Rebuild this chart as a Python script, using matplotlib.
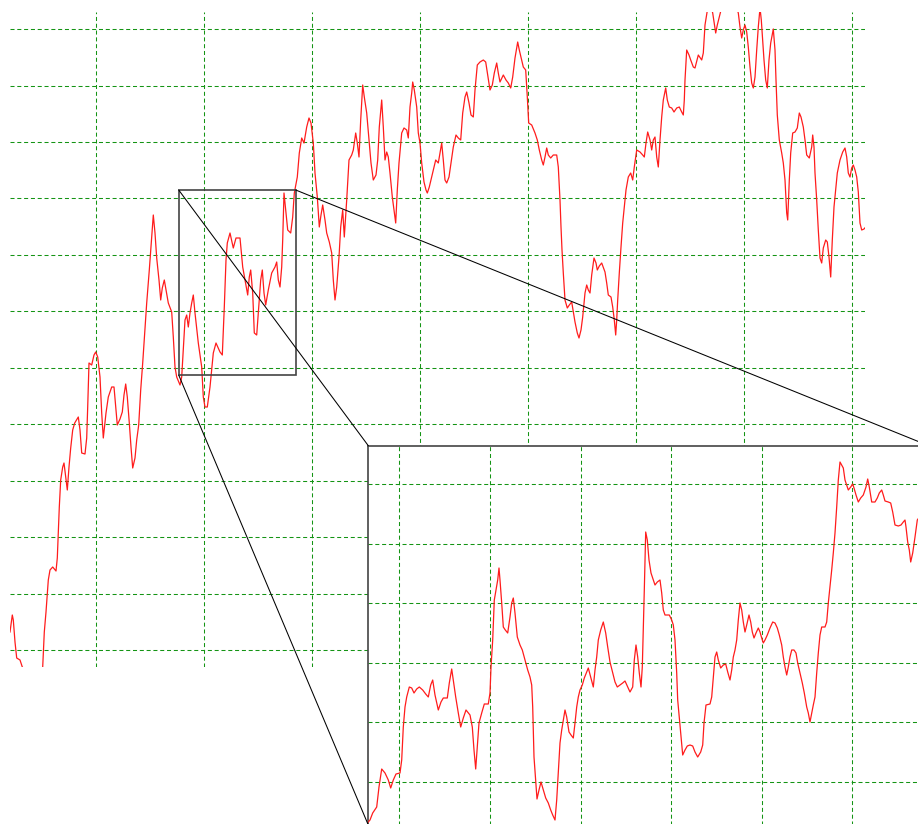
import matplotlib
matplotlib.use("Agg")
import matplotlib.pyplot as plt
from matplotlib.patches import Rectangle, ConnectionPatch
import numpy as np

# ---------------- data: main series ----------------
main_x = [
    0, 2.3, 3.3, 5, 6.7, 10, 12.3, 17, 23, 29,
    32.7, 34.3, 36, 38.3, 40, 42.7, 46, 47.3, 48.3, 49.3,
    50.7, 52.7, 54, 55.7, 57.3, 59, 60.7, 62.7, 64.7, 68.3,
    70, 71.7, 75, 76.7, 77.7, 79, 81.7, 84, 85.7, 87.7,
    90, 91.7, 93.3, 96, 98.3, 101.7, 104, 106, 107.3, 110,
    112.3, 114, 115.7, 117.3, 119.3, 121, 122.7, 125, 126.7, 128.7,
    130.7, 132.7, 136.7, 139.3, 141.7, 143.3, 145, 146.7, 149, 150.7,
    152.3, 154.3, 156, 158.3, 161.7, 163.3, 165, 166.7, 170, 171.7,
    173.3, 175, 176.7, 178.3, 180, 181.7, 183.3, 185, 188.3, 191.7,
    193.3, 195, 197.3, 200, 203.3, 206, 210, 212.3, 214.3, 216,
    217.3, 220, 223.3, 226, 230, 232.7, 235, 237.7, 239.3, 240.7,
    242.7, 244.3, 246.7, 248.3, 250.7, 252.3, 254, 255.7, 258.3, 261.7,
    265, 266.7, 268.3, 270, 271.7, 272.7, 274, 275.7, 277.7, 280.7,
    282.7, 284.3, 287.3, 289.3, 291.7, 294, 296.7, 299, 301, 303.3,
    305, 307.3, 309.3, 311, 312.7, 315, 316.7, 319.3, 321.7, 323.3,
    325, 326.7, 329, 330.7, 332.7, 334.3, 336.7, 339, 341.7, 343.3,
    345.7, 347.3, 349, 350.7, 352.7, 354.3, 356.7, 359, 361, 363.3,
    366, 367.7, 369.3, 371.7, 373.3, 375, 376.7, 378.3, 380, 382.3,
    384, 385.7, 387.3, 389, 391.7, 394, 396.7, 398.3, 400, 401.7,
    402.7, 404.3, 406.7, 408.3, 410, 411.7, 414, 416, 417.3, 419.3,
    421.7, 424, 425.7, 428.3, 430, 431.7, 433.3, 435, 436.7, 439,
    440.7, 443.3, 446, 448.3, 450.7, 452.7, 455, 456.7, 459, 461,
    463.3, 465, 467.3, 470, 473.3, 475.7, 477.7, 480, 482.3, 484.3,
    486.7, 488.3, 490, 493.3, 496, 498.3, 500.7, 502.7, 505, 507.7,
    509.3, 511.7, 513.3, 515.7, 517.3, 518.7, 521.7, 525, 527.3, 529.3,
    531.7, 533.3, 535, 536.7, 538.3, 540.7, 543.3, 546.7, 548.3, 550,
    551, 552, 553.3, 555, 557.3, 559.3, 561.7, 563.3, 565, 567.3,
    569, 571, 572.7, 575, 576.7, 578.3, 580, 581.7, 584, 586,
    587.3, 589.3, 591.7, 595, 596.7, 598.3, 601, 602.7, 604.3, 605.7,
    606.7, 607.7, 609.3, 611, 612.7, 614.3, 616, 618.3, 620.7, 622.7,
    624.3, 626.7, 630, 632.7, 634.3, 636, 637.7, 640, 641.7, 643.3,
    645, 646.7, 648.3, 650, 651.7, 653.3, 655.7, 657.3, 659.3, 661.7,
    664, 666.7, 669.3, 671.7, 673.3, 674.3, 675, 676.7, 679, 680.7,
    683.3, 685, 688.3, 691.7, 693.3, 695, 699, 702.7, 704, 705.7,
    707.3, 709.3, 714, 719, 724, 728.3, 730, 731.7, 733.3, 735,
    736.7, 738.3, 740, 741.7, 743.3, 745, 746.7, 748.3, 750, 751.3,
    752.7, 754, 755.7, 757.3, 759, 760.7, 763.3, 765, 766, 767.3,
    769.3, 771.7, 773.3, 775, 776.7, 777.7, 779.3, 780.7, 782.7, 785,
    787.3, 789.3, 791, 793.3, 795, 796.7, 799.3, 801.7, 802.7, 804,
    805, 806.7, 808.3, 810, 811.7, 813.3, 815.7, 817.3, 819, 820.7,
    822.3, 824, 825.7, 827.3, 830, 832.7, 835, 836.7, 838.3, 840,
    841.7, 843.3, 845, 846.7, 848.3, 850, 851.7, 854, 855.7,
]
main_y = [
    18, 35, 30, 8, -8, -10, -17, -22, -30, -25,
    -17, 18, 38, 70, 80, 83, 79, 92, 118, 143,
    170, 183, 187, 173, 160, 183, 202, 220, 227, 233,
    220, 197, 196, 212, 243, 287, 285, 295, 298, 293,
    273, 237, 212, 237, 253, 263, 263, 240, 225, 231,
    238, 255, 266, 253, 227, 203, 182, 192, 210, 225,
    260, 287, 347, 380, 413, 435, 417, 392, 370, 350,
    362, 370, 360, 347, 338, 313, 283, 273, 265, 273,
    300, 330, 335, 323, 337, 347, 355, 337, 307, 283,
    253, 243, 243, 263, 297, 307, 298, 295, 343, 390,
    407, 417, 402, 412, 412, 383, 370, 355, 373, 380,
    357, 317, 315, 337, 370, 380, 357, 345, 360, 377,
    383, 388, 370, 363, 383, 410, 457, 440, 420, 417,
    433, 457, 473, 497, 512, 507, 523, 532, 527, 507,
    477, 453, 423, 435, 445, 430, 417, 408, 397, 370,
    350, 363, 393, 423, 440, 413, 450, 490, 495, 500,
    517, 507, 493, 530, 565, 553, 537, 510, 487, 470,
    475, 490, 523, 550, 523, 490, 498, 493, 477, 453,
    440, 427, 460, 487, 517, 522, 520, 512, 543, 557,
    568, 560, 543, 517, 507, 487, 468, 460, 457, 463,
    473, 483, 490, 487, 497, 507, 490, 470, 467, 473,
    485, 503, 515, 512, 510, 537, 553, 558, 547, 535,
    533, 560, 585, 588, 590, 588, 575, 560, 565, 577,
    587, 577, 568, 575, 570, 567, 562, 573, 592, 608,
    600, 590, 583, 580, 553, 527, 525, 517, 510, 500,
    490, 485, 493, 502, 495, 492, 495, 495, 483, 450,
    423, 400, 377, 350, 342, 345, 348, 338, 328, 317,
    312, 320, 333, 357, 365, 360, 357, 375, 392, 387,
    380, 384, 387, 378, 367, 355, 353, 343, 330, 315,
    330, 350, 377, 403, 427, 443, 460, 473, 477, 470,
    483, 500, 498, 495, 493, 507, 518, 510, 500, 510,
    513, 493, 483, 510, 533, 550, 562, 550, 543, 542,
    538, 542, 543, 538, 535, 550, 570, 600, 595, 590,
    583, 582, 595, 590, 597, 625, 650, 637, 628, 617,
    625, 633, 652, 662, 650, 637, 623, 612, 620, 625,
    618, 603, 583, 567, 562, 573, 600, 623, 642, 630,
    610, 590, 570, 562, 590, 607, 621, 600, 570, 535,
    510, 497, 487, 470, 437, 430, 470, 497, 517, 518,
    522, 537, 533, 523, 510, 495, 492, 503, 515, 503,
    477, 450, 420, 392, 387, 402, 410, 408, 393, 373,
    410, 443, 460, 477, 490, 498, 502, 493, 477, 473,
    482, 485, 480, 473, 458, 427, 420, 421, 423,
]

# ---------------- data: magnified (inset) series ----------------
zoom_x = [
    0, 1.7, 4.4, 8.4, 10.7, 13.4, 16.7, 20, 22.4, 25,
    27.7, 31.7, 33.4, 35, 36.7, 38.4, 41, 43.4, 45.7, 48.4,
    51, 54.4, 57.4, 60, 62.4, 64.4, 66.7, 70, 72.7, 75,
    79, 81, 83.4, 85, 87.4, 90, 92.4, 95, 97.7, 101.7,
    104, 105.7, 107.4, 109, 110.7, 113.4, 116, 120, 121.7, 122.7,
    124.4, 126, 127.7, 129.4, 130.7, 131.7, 133.4, 135, 137, 139.4,
    141.7, 143.4, 145, 146.7, 149, 151.7, 154, 156.7, 159.4, 161.7,
    163.4, 164.4, 165.7, 167.4, 168.7, 170.7, 172.7, 175, 177.4, 180,
    182.4, 184.4, 186.7, 188.4, 190, 191.7, 193.4, 195, 196.7, 198.4,
    200.7, 202.7, 205, 206.7, 208.4, 210, 211.7, 214, 216, 218.4,
    220, 222.4, 225, 226.7, 228.4, 230, 232.4, 235, 237.4, 239.4,
    241.7, 244.4, 246.7, 249, 251.7, 254.4, 256.7, 261.7, 264.4, 266,
    267.7, 269.4, 271, 272.7, 274, 275, 276, 277.4, 279, 280.7,
    282.7, 285, 286.7, 289, 291.7, 293.4, 295, 296.7, 301, 303.4,
    305, 306.7, 308.4, 309.4, 311, 312.4, 314.4, 316.7, 319, 321.7,
    324.4, 326.7, 329.4, 332.4, 334.4, 335.7, 337.7, 341.7, 343.4, 345,
    346.7, 348.4, 350, 352.4, 355, 357.4, 359.4, 361.7, 363.4, 365,
    366.7, 368.4, 370, 371.7, 373.4, 375, 376.7, 378.4, 380.7, 382.4,
    384, 385.7, 387.7, 390, 391.7, 393.4, 395, 396.7, 399, 401.7,
    404.4, 406.7, 409, 411, 413.4, 415, 416.7, 418.4, 420, 421.7,
    423.4, 425.7, 427.7, 429.4, 431.7, 434, 436, 438.4, 440, 441.7,
    443.4, 445, 446.7, 448.4, 450, 451.7, 453.4, 456.7, 458.4, 460,
    461.7, 463.4, 465, 466.7, 468.4, 470, 471.7, 473.4, 475, 476.7,
    478.4, 480, 482.4, 484.4, 485.7, 487.7, 490, 492.4, 495, 497.7,
    499.4, 501, 503.4, 506.7, 509, 511, 513.4, 515, 516.7, 520,
    522.4, 524.4, 526.7, 530, 532.7, 535, 536.7, 537.7, 539.4, 541,
    542.4, 544.4, 546.7, 549, 554.7, 560.7,
]
zoom_y = [
    2, 4, 11, 17, 37, 55, 51, 44, 36, 44,
    50, 51, 64, 97, 117, 127, 137, 136, 131, 135,
    137, 134, 130, 127, 139, 144, 129, 114, 122, 126,
    126, 141, 155, 144, 127, 111, 97, 106, 114, 109,
    97, 74, 55, 77, 101, 111, 120, 120, 131, 157,
    184, 224, 234, 244, 256, 244, 221, 197, 194, 191,
    207, 221, 226, 211, 187, 179, 174, 164, 154, 147,
    139, 117, 67, 44, 25, 34, 42, 34, 26, 21,
    14, 9, 4, 24, 51, 81, 94, 104, 114, 107,
    92, 89, 86, 101, 117, 127, 134, 139, 146, 152,
    156, 147, 137, 154, 167, 184, 194, 202, 191, 177,
    162, 151, 142, 137, 139, 141, 143, 132, 137, 164,
    179, 167, 151, 137, 157, 194, 234, 292, 284, 264,
    251, 244, 239, 242, 244, 231, 214, 209, 209, 204,
    199, 184, 151, 124, 107, 91, 69, 74, 78, 79,
    78, 72, 67, 72, 79, 101, 119, 120, 127, 147,
    167, 172, 164, 156, 159, 160, 152, 144, 154, 167,
    174, 184, 204, 221, 214, 202, 192, 199, 209, 202,
    192, 186, 191, 196, 192, 186, 181, 184, 189, 196,
    202, 201, 196, 189, 179, 167, 157, 149, 157, 167,
    174, 174, 171, 161, 151, 141, 131, 117, 111, 102,
    111, 119, 127, 151, 171, 189, 197, 197, 202, 221,
    237, 254, 271, 291, 317, 344, 362, 359, 356, 344,
    339, 334, 337, 340, 336, 329, 322, 326, 329, 337,
    345, 337, 322, 322, 326, 331, 334, 329, 323, 322,
    321, 312, 299, 298, 299, 302, 304, 297, 282, 274,
    262, 271, 287, 304, 312, 316,
]

# zoom window on the main chart (data units of the main axes)
zoom_window_x = (168.7, 285.7)
zoom_window_y = (275, 460)

# ---------------- styling ----------------
plt.rcParams["lines.scale_dashes"] = False
W, H = 918, 824
GRID = "#149414"
RED = "#ff1c1c"
FRAME = "#444444"
DASH = (0, (2.9, 2.0))

fig = plt.figure(figsize=(W / 100, H / 100), dpi=100)
fig.patch.set_facecolor("white")

# main axes
ax = fig.add_axes([10 / W, (H - 667) / H, 855 / W, 655 / H])
ax.plot(main_x, main_y, color=RED, lw=0.9, zorder=3)
ax.set_xlim(0, 855)
ax.set_ylim(-17, 638)
ax.set_xticks(np.arange(86.3, 855, 108))
ax.set_yticks(np.arange(0, 630, 56.45))
ax.tick_params(length=0, labelbottom=False, labelleft=False)
for s in ax.spines.values():
    s.set_visible(False)
ax.grid(True, color=GRID, lw=0.75, linestyle=DASH)
ax.set_axisbelow(True)

# zoom rectangle
x0, x1 = zoom_window_x
y0, y1 = zoom_window_y
ax.add_patch(Rectangle((x0, y0), x1 - x0, y1 - y0, fill=False,
                       ec=FRAME, lw=1.2, zorder=5))

# inset axes (extends past the right and bottom figure edges)
axi = fig.add_axes([368.3 / W, -1 / H, 560.4 / W, 379.3 / H])
axi.set_facecolor("white")
axi.plot(zoom_x, zoom_y, color=RED, lw=0.9, zorder=3)
axi.set_xlim(0, 560.4)
axi.set_ylim(-1, 378.3)
axi.set_xticks(np.arange(31, 560, 90.6))
axi.set_yticks(np.arange(42.3, 378, 59.5))
axi.tick_params(length=0, labelbottom=False, labelleft=False)
for s in axi.spines.values():
    s.set_color(FRAME)
    s.set_linewidth(1.2)
axi.grid(True, color=GRID, lw=0.75, linestyle=DASH)
axi.set_axisbelow(True)

# connector lines
corners = [
    ((x0, y1), (0, 378.3)),
    ((x1, y1), (560.4, 378.3)),
    ((x0, y0), (0, -1)),
]
for a, b in corners:
    con = ConnectionPatch(xyA=a, coordsA=ax.transData,
                          xyB=b, coordsB=axi.transData,
                          color="black", lw=0.75, zorder=10)
    con.set_clip_on(False)
    fig.add_artist(con)

fig.savefig("out.png", dpi=100)
